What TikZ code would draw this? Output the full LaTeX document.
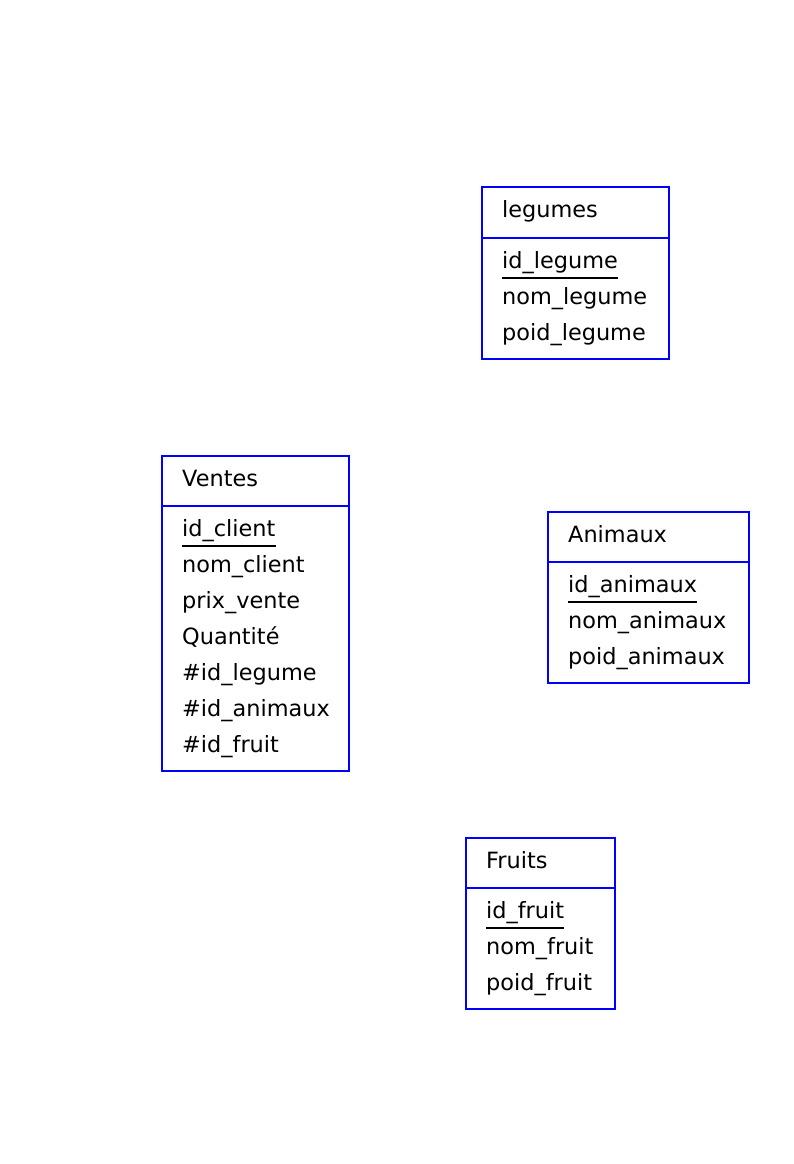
\documentclass[tikz,border=0pt]{standalone}
\usepackage{fontspec}
\setmainfont{DejaVu Sans}
\usetikzlibrary{positioning}

\begin{document}
\begin{tikzpicture}[
  x=1pt, y=-1pt,
  every node/.style={font=\fontsize{22.4}{26}\selectfont},
  entity/.style={
    draw=blue,
    line width=1.8pt,
    anchor=north west,
    inner sep=0pt,
    outer sep=0pt
  },
  divider/.style={draw=blue, line width=1.8pt},
  title/.style={anchor=base west, inner sep=0pt},
  attr/.style={anchor=base west, inner sep=0pt},
  % underline of the key attribute
  keyline/.style={draw=black, line width=1.8pt}
]

\useasboundingbox[fill=white] (0,0) rectangle (794,1164);

% ------------------------------------------------
% legumes
% ------------------------------------------------
\node[entity, minimum width=187pt, minimum height=172pt] (legumes) at (482,187) {};
\draw[divider] ([yshift=-51pt]legumes.north west) -- ([yshift=-51pt]legumes.north east);
\node[title] (legumesTitle) at (502,217) {legumes};
\node[attr] (idLegume)   at (502,268) {id\_legume};
\node[attr] (nomLegume)  at (502,304) {nom\_legume};
\node[attr] (poidLegume) at (502,340) {poid\_legume};
\draw[keyline] ([yshift=-10pt]idLegume.base west) -- ([yshift=-10pt]idLegume.base east);

% ------------------------------------------------
% Ventes
% ------------------------------------------------
\node[entity, minimum width=187pt, minimum height=315pt] (ventes) at (162,456) {};
\draw[divider] ([yshift=-50pt]ventes.north west) -- ([yshift=-50pt]ventes.north east);
\node[title] (ventesTitle) at (182,486) {Ventes};
\node[attr] (idClient)   at (182,536) {id\_client};
\node[attr] (nomClient)  at (182,572) {nom\_client};
\node[attr] (prixVente)  at (182,608) {prix\_vente};
\node[attr] (quantite)   at (182,644) {Quantité};
\node[attr] (fkLegume)   at (182,680) {\#id\_legume};
\node[attr] (fkAnimaux)  at (182,716) {\#id\_animaux};
\node[attr] (fkFruit)    at (182,752) {\#id\_fruit};
\draw[keyline] ([yshift=-10pt]idClient.base west) -- ([yshift=-10pt]idClient.base east);

% ------------------------------------------------
% Animaux
% ------------------------------------------------
\node[entity, minimum width=201pt, minimum height=171pt] (animaux) at (548,512) {};
\draw[divider] ([yshift=-50pt]animaux.north west) -- ([yshift=-50pt]animaux.north east);
\node[title] (animauxTitle) at (568,542) {Animaux};
\node[attr] (idAnimaux)   at (568,592) {id\_animaux};
\node[attr] (nomAnimaux)  at (568,628) {nom\_animaux};
\node[attr] (poidAnimaux) at (568,664) {poid\_animaux};
\draw[keyline] ([yshift=-10pt]idAnimaux.base west) -- ([yshift=-10pt]idAnimaux.base east);

% ------------------------------------------------
% Fruits
% ------------------------------------------------
\node[entity, minimum width=149pt, minimum height=171pt] (fruits) at (466,838) {};
\draw[divider] ([yshift=-50pt]fruits.north west) -- ([yshift=-50pt]fruits.north east);
\node[title] (fruitsTitle) at (486,868) {Fruits};
\node[attr] (idFruit)   at (486,918) {id\_fruit};
\node[attr] (nomFruit)  at (486,954) {nom\_fruit};
\node[attr] (poidFruit) at (486,990) {poid\_fruit};
\draw[keyline] ([yshift=-10pt]idFruit.base west) -- ([yshift=-10pt]idFruit.base east);

\end{tikzpicture}
\end{document}
